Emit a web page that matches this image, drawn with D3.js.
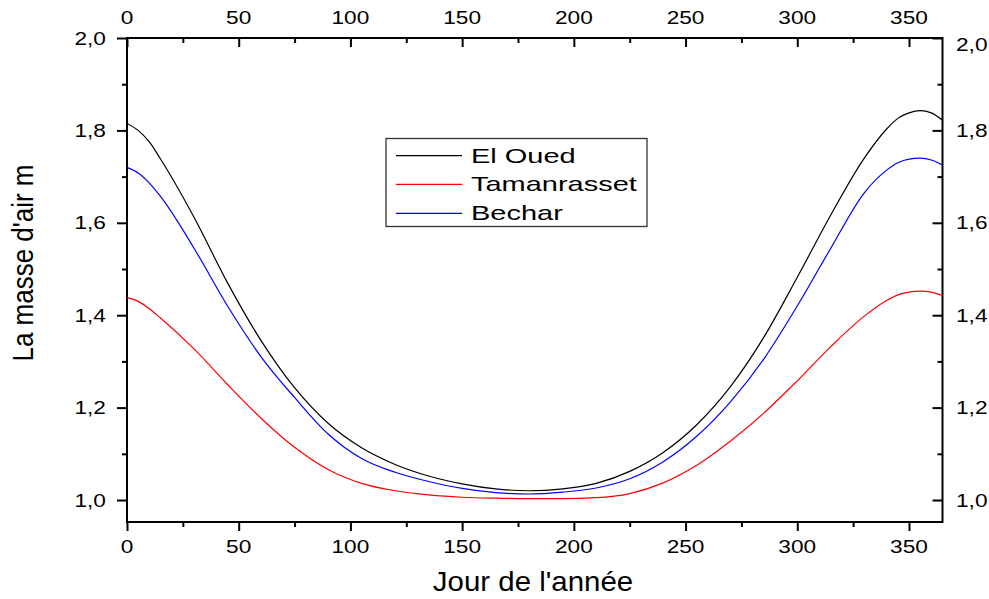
<!DOCTYPE html>
<html><head><meta charset="utf-8">
<script src="https://cdn.jsdelivr.net/npm/d3@7"></script>
<style>body{margin:0;background:#fff} text{font-family:"Liberation Sans",Arial,sans-serif;fill:#000}</style>
</head><body><svg id="c" width="989" height="599"></svg>
<script>
// ---- data ----
const days        = [0, 5, 10, 15, 30, 45, 60, 75, 90, 105, 120, 135, 150, 165, 180, 195, 210, 225, 240, 255, 270, 285, 300, 315, 330, 340, 345, 350, 355, 360, 365];
const elOued      = [1.815, 1.800, 1.775, 1.738, 1.612, 1.470, 1.345, 1.243, 1.166, 1.113, 1.077, 1.052, 1.035, 1.024, 1.020, 1.024, 1.036, 1.062, 1.103, 1.163, 1.245, 1.352, 1.482, 1.617, 1.740, 1.803, 1.826, 1.838, 1.843, 1.838, 1.822];
const tamanrasset = [1.438, 1.430, 1.414, 1.394, 1.327, 1.250, 1.177, 1.114, 1.066, 1.036, 1.020, 1.011, 1.006, 1.004, 1.003, 1.003, 1.005, 1.014, 1.037, 1.075, 1.127, 1.188, 1.258, 1.332, 1.398, 1.432, 1.444, 1.450, 1.452, 1.450, 1.442];
const bechar      = [1.720, 1.708, 1.686, 1.657, 1.545, 1.420, 1.310, 1.222, 1.143, 1.090, 1.060, 1.040, 1.025, 1.016, 1.013, 1.017, 1.026, 1.046, 1.083, 1.138, 1.212, 1.305, 1.420, 1.545, 1.665, 1.714, 1.730, 1.738, 1.740, 1.736, 1.725];
const seriesNames  = ["El Oued", "Tamanrasset", "Bechar"];
const seriesValues = [elOued, tamanrasset, bechar];
const seriesColors = ["#000000", "#ff0000", "#0000ff"];
const xMajor = [0, 50, 100, 150, 200, 250, 300, 350];
const xMinor = [25, 75, 125, 175, 225, 275, 325];
const yMajor = [1.0, 1.2, 1.4, 1.6, 1.8, 2.0];
const yMinor = [1.1, 1.3, 1.5, 1.7, 1.9];
const xTitle = "Jour de l'année";
const yTitle = "La masse d'air m";

// ---- layout ----
const L = 127, R = 942.5, T = 38, B = 522;
const svg = d3.select("#c");
const x = d3.scaleLinear().domain([0, 365]).range([L, R]);
const y = d3.scaleLinear().domain([0.9524, 2.0]).range([B, T]);
const fmt = v => d3.format(".1f")(v).replace(".", ",");

function tickAxis(axisFn, scale, vals, size, tx, ty) {
  const g = svg.append("g").attr("transform", `translate(${tx},${ty})`)
    .call(axisFn(scale).tickValues(vals).tickSize(size).tickSizeOuter(0).tickFormat(""));
  g.select(".domain").remove();
  g.selectAll(".tick line").attr("stroke", "#000").attr("stroke-width", 2);
}
// bottom (outward), top (inward), left (outward), right (inward)
tickAxis(d3.axisBottom, x, xMajor, 9, 0, B);
tickAxis(d3.axisBottom, x, xMinor, 5, 0, B);
tickAxis(d3.axisBottom, x, xMajor, 9, 0, T);
tickAxis(d3.axisBottom, x, xMinor, 5, 0, T);
tickAxis(d3.axisLeft, y, yMajor, 10, L, 0);
tickAxis(d3.axisLeft, y, yMinor, 5, L, 0);
tickAxis(d3.axisLeft, y, yMajor, 10, R, 0);
tickAxis(d3.axisLeft, y, yMinor, 5, R, 0);

// frame
svg.append("rect").attr("x", L).attr("y", T).attr("width", R - L).attr("height", B - T)
  .attr("fill", "none").attr("stroke", "#000").attr("stroke-width", 2);

// tick labels (horizontally stretched like the original)
const SX = 1.26, TFS = 18;
xMajor.forEach(d => {
  svg.append("text").attr("transform", `translate(${x(d)},553) scale(${SX},1)`)
    .attr("text-anchor", "middle").attr("font-size", TFS).text(d);
  svg.append("text").attr("transform", `translate(${x(d)},24) scale(${SX},1)`)
    .attr("text-anchor", "middle").attr("font-size", TFS).text(d);
});
yMajor.forEach(v => {
  svg.append("text").attr("transform", `translate(106,${y(v) + 6.5}) scale(${SX},1)`)
    .attr("text-anchor", "end").attr("font-size", TFS).text(fmt(v));
  svg.append("text").attr("transform", `translate(956,${y(v) + 6.5 + (v === 2.0 ? 6 : 0)}) scale(${SX},1)`)
    .attr("text-anchor", "start").attr("font-size", TFS).text(fmt(v));
});

// axis titles
svg.append("text").attr("transform", `translate(533,591) scale(1.09,1)`)
  .attr("text-anchor", "middle").attr("font-size", 27).text(xTitle);
svg.append("text").attr("transform", `translate(33,263) rotate(-90) scale(1,1.16)`)
  .attr("text-anchor", "middle").attr("font-size", 26).text(yTitle);

// curves
const line = d3.line().x((d, i) => x(days[i])).y(d => y(d)).curve(d3.curveMonotoneX);
seriesValues.forEach((vals, k) => {
  svg.append("path").datum(vals).attr("d", line)
    .attr("fill", "none").attr("stroke", seriesColors[k]).attr("stroke-width", 1.2);
});

// legend
svg.append("rect").attr("x", 386).attr("y", 138.5).attr("width", 261).attr("height", 88)
  .attr("fill", "#fff").attr("stroke", "#333").attr("stroke-width", 1.3);
const legY = [155.7, 184.3, 213.3];
seriesNames.forEach((n, k) => {
  svg.append("line").attr("x1", 396).attr("x2", 462).attr("y1", legY[k]).attr("y2", legY[k])
    .attr("stroke", seriesColors[k]).attr("stroke-width", 1.2);
  svg.append("text").attr("transform", `translate(471,${legY[k] + 7}) scale(1.38,1)`)
    .attr("font-size", 21).text(n);
});
</script></body></html>
